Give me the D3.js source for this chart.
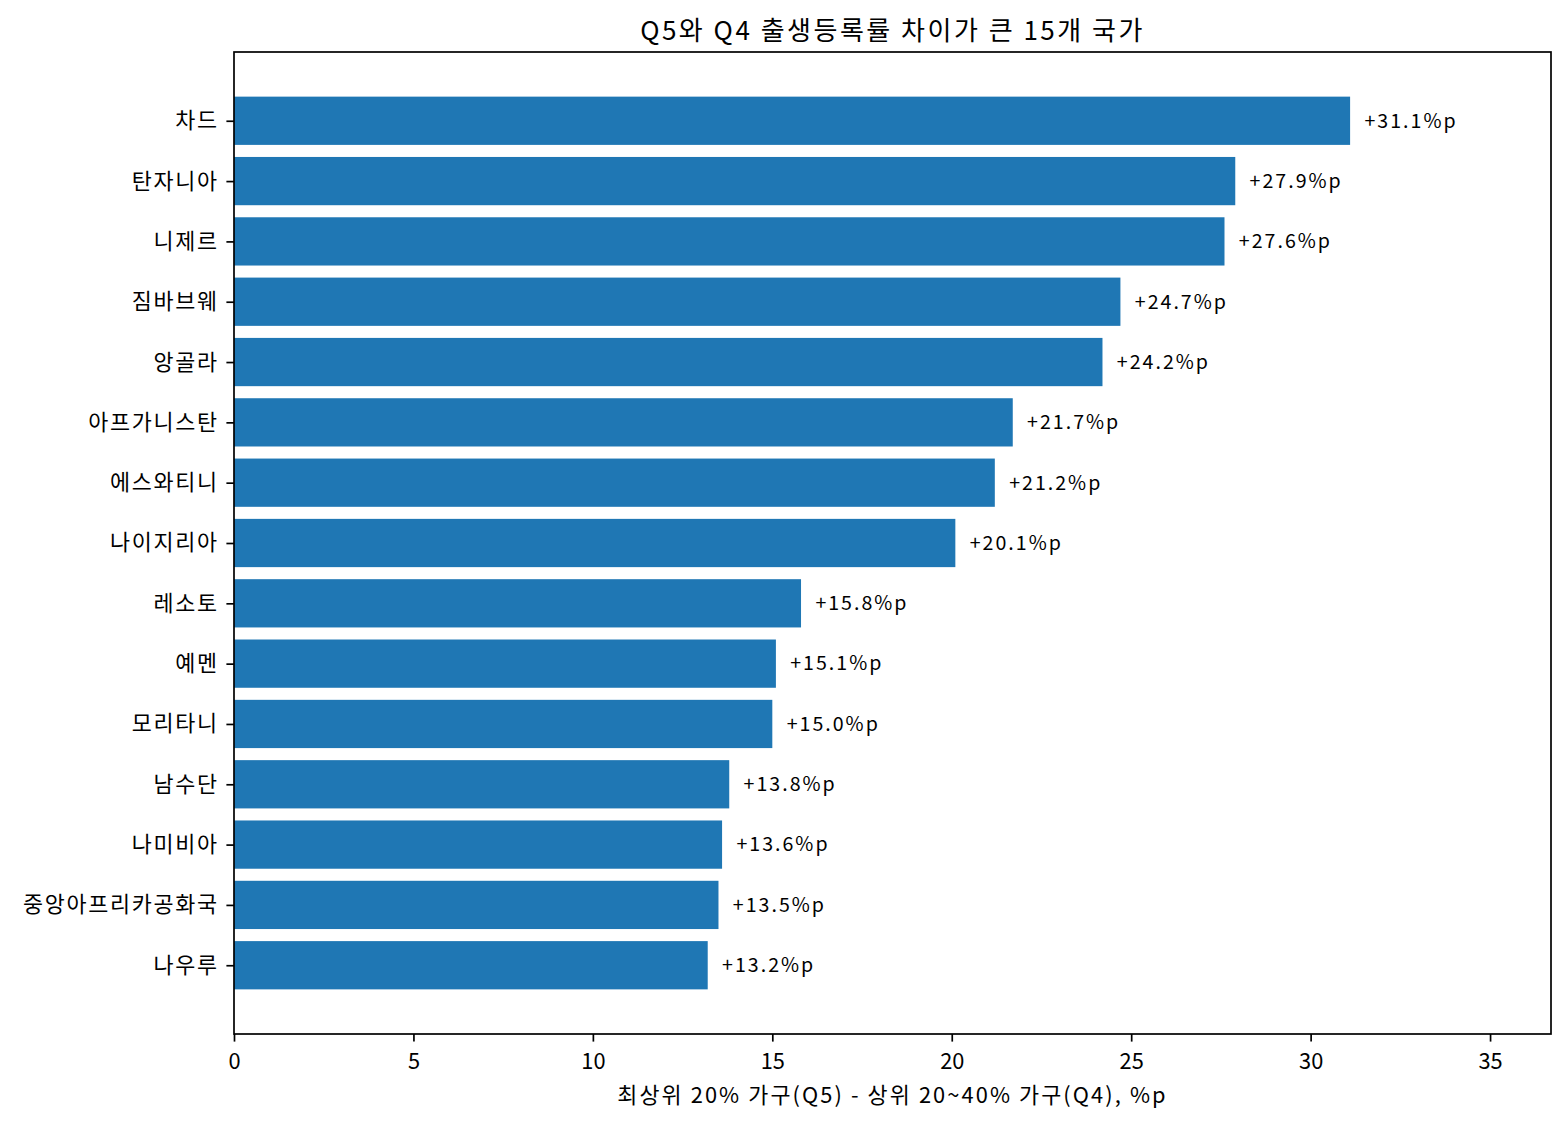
<!DOCTYPE html>
<html>
<head>
<meta charset="utf-8">
<script src="https://cdn.jsdelivr.net/npm/d3@7"></script>
<style>
  body { margin: 0; background: #fff; }
  text { font-family: "Noto Sans CJK KR", "Noto Sans", sans-serif; fill: #000; }
</style>
</head>
<body>
<div id="chart"></div>
<script>
// Data
const countries = ['차드', '탄자니아', '니제르', '짐바브웨', '앙골라', '아프가니스탄', '에스와티니',
    '나이지리아', '레소토', '예멘', '모리타니', '남수단', '나미비아', '중앙아프리카공화국', '나우루'];
const gaps = [31.1, 27.9, 27.6, 24.7, 24.2, 21.7, 21.2, 20.1, 15.8, 15.1, 15.0, 13.8, 13.6, 13.5, 13.2];
const xTicks = [0, 5, 10, 15, 20, 25, 30, 35];

const config = {
    width: 1568,
    height: 1124,
    margin: { top: 52, right: 17, bottom: 90, left: 234 },
    barColor: '#1f77b4',
    tickLen: 7.6,
    tickPad: 7.6,
    lineW: 1.7
};

const svg = d3.select('#chart')
    .append('svg')
    .attr('width', config.width)
    .attr('height', config.height);

const plotW = config.width - config.margin.left - config.margin.right;
const plotH = config.height - config.margin.top - config.margin.bottom;

const g = svg.append('g')
    .attr('transform', `translate(${config.margin.left},${config.margin.top})`);

// Scales (matplotlib-like: xlim = max * 1.18, y margins 5%)
const xScale = d3.scaleLinear()
    .domain([0, d3.max(gaps) * 1.18])
    .range([0, plotW]);

const n = countries.length;
const span = (n - 1) + 0.8;
const pad = span * 0.05;
const yScale = d3.scaleLinear()
    .domain([-0.4 - pad, n - 1 + 0.4 + pad])
    .range([0, plotH]);
const bandH = yScale(0.4) - yScale(-0.4);

// Bars
g.selectAll('rect.bar')
    .data(gaps)
    .enter()
    .append('rect')
    .attr('class', 'bar')
    .attr('x', xScale(0))
    .attr('y', (d, i) => yScale(i) - bandH / 2)
    .attr('width', d => xScale(d) - xScale(0))
    .attr('height', bandH)
    .attr('fill', config.barColor);

// Value labels
g.selectAll('text.val')
    .data(gaps)
    .enter()
    .append('text')
    .attr('class', 'val')
    .attr('x', d => xScale(d + 0.4))
    .attr('y', (d, i) => yScale(i))
    .attr('dy', '0.35em')
    .style('font-size', '19.6px')
    .style('letter-spacing', '2px')
    .text(d => `+${d.toFixed(1)}%p`);

// X axis
const xAxis = g.append('g')
    .attr('transform', `translate(0,${plotH})`)
    .call(d3.axisBottom(xScale).tickValues(xTicks).tickSize(config.tickLen).tickPadding(config.tickPad + 4).tickFormat(d3.format('d')));
xAxis.select('.domain').remove();
xAxis.selectAll('line').attr('stroke-width', config.lineW);
xAxis.selectAll('text').style('font-size', '21.8px').style('font-family', '"Noto Sans CJK KR", sans-serif');

// Y axis
const yAxis = g.append('g')
    .call(d3.axisLeft(yScale).tickValues(d3.range(n)).tickSize(config.tickLen).tickPadding(config.tickPad).tickFormat(i => countries[i]));
yAxis.select('.domain').remove();
yAxis.selectAll('line').attr('stroke-width', config.lineW);
yAxis.selectAll('text')
    .style('font-size', '21.8px')
    .style('letter-spacing', '1.7px')
    .style('font-family', '"Noto Sans CJK KR", sans-serif');

// Frame
g.append('rect')
    .attr('width', plotW)
    .attr('height', plotH)
    .attr('fill', 'none')
    .attr('stroke', '#000')
    .attr('stroke-width', config.lineW);

// Title and label
svg.append('text')
    .attr('x', config.margin.left + plotW / 2)
    .attr('y', 40)
    .attr('text-anchor', 'middle')
    .style('font-size', '26px')
    .style('letter-spacing', '2.5px')
    .text('Q5와 Q4 출생등록률 차이가 큰 15개 국가');

svg.append('text')
    .attr('x', config.margin.left + plotW / 2)
    .attr('y', 1103)
    .attr('text-anchor', 'middle')
    .style('font-size', '21.8px')
    .style('letter-spacing', '2.1px')
    .text('최상위 20% 가구(Q5) - 상위 20~40% 가구(Q4), %p');
</script>
</body>
</html>
